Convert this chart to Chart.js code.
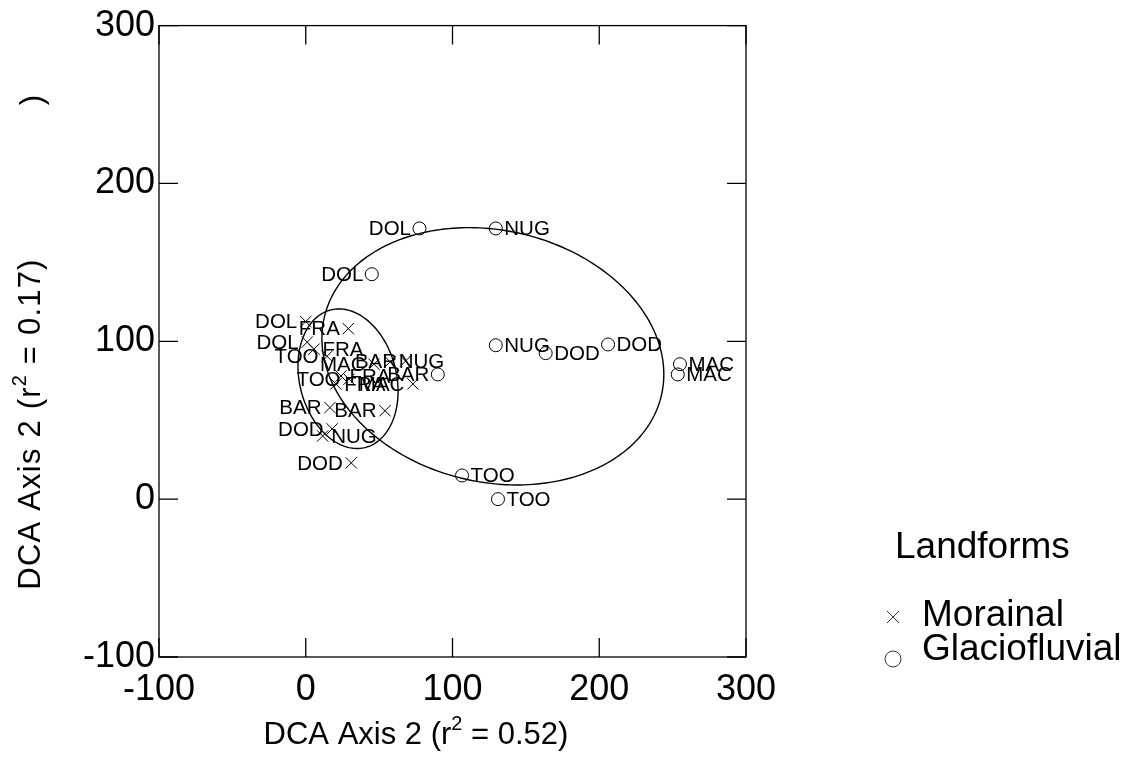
<!DOCTYPE html>
<html><head><meta charset="utf-8">
<script src="https://cdn.jsdelivr.net/npm/chart.js@4/dist/chart.umd.min.js"></script>
<style>html,body{margin:0;padding:0;background:#fff;}canvas{display:block;}</style>
</head><body>
<canvas id="c" width="1138" height="757"></canvas>
<script>
const FONT = '"Liberation Sans", Arial, Helvetica, sans-serif';

// axis ticks
const xTicks = [-100, 0, 100, 200, 300];
const yTicks = [-100, 0, 100, 200, 300];

// Morainal sites (crosses)
const morainalLabels = ['DOL','FRA','DOL','FRA','TOO','MAC','BAR','NUG','TOO','FRA','FRA','MAC','BAR','BAR','DOD','NUG','DOD'];
const morainalX      = [0,    29,   1,    5.6,  14.5, 46.5, 68,   57.5, 29.5, 24,   20.5, 73,   16.5, 54,   18,   11.5, 31];
const morainalY      = [112.5,108,  99.5, 95,   90.5, 85.5, 87.5, 87,   76,   78,   73,   73,   58,   56,   44.5, 40,   23];
const morainalSide   = ['L',  'L',  'L',  'R',  'L',  'L',  'L',  'R',  'L',  'R',  'R',  'L',  'L',  'L',  'L',  'R',  'L'];

// Glaciofluvial sites (circles)
const glacioLabels = ['DOL','NUG','DOL','NUG','DOD','DOD','MAC','MAC','TOO','TOO','BAR'];
const glacioX      = [77.5, 129.5,45,   129.5,163.5,206,  255,  253.5,106.5,131,  90];
const glacioY      = [171.5,171.5,142.5,97.5, 92.5, 98,   85.5, 79,   15,   0,    79];
const glacioSide   = ['L',  'R',  'L',  'R',  'R',  'R',  'R',  'R',  'R',  'R',  'L'];

// Ellipses (data units): centre, spread in x / y, correlation
const ellipseCX = [127.5, 28.8];
const ellipseCY = [90.5, 76.3];
const ellipseSX = [116.5, 34.1];
const ellipseSY = [81.5, 44.2];
const ellipseR  = [-0.14, -0.18];

const xTitleParts = ['DCA Axis 2 (r', '2', ' = 0.52)'];
const yTitleParts = ['DCA Axis 2 (r', '2', ' = 0.17)'];
const legendTitle = 'Landforms';
const seriesNames = ['Morainal', 'Glaciofluvial'];

const toPts = (xs, ys) => xs.map((x, i) => ({x: x, y: ys[i]}));

function drawSupTitle(ctx, parts, cx, cy, spacing) {
  ctx.letterSpacing = spacing + 'px';
  const big = '31px ' + FONT, small = '20px ' + FONT;
  ctx.font = big; const w0 = ctx.measureText(parts[0]).width;
  ctx.font = small; const w1 = ctx.measureText(parts[1]).width;
  ctx.font = big; const w2 = ctx.measureText(parts[2]).width;
  const W = w0 + w1 + w2;
  let x = cx - W / 2;
  ctx.textAlign = 'left';
  ctx.textBaseline = 'middle';
  ctx.font = big; ctx.fillText(parts[0], x, cy); x += w0;
  ctx.font = small; ctx.fillText(parts[1], x, cy - 11); x += w1;
  ctx.font = big; ctx.fillText(parts[2], x, cy);
  ctx.letterSpacing = '0px';
}

const decor = {
  id: 'decor',
  afterDatasetsDraw(chart) {
    const ctx = chart.ctx, a = chart.chartArea;
    const xs = chart.scales.x, ys = chart.scales.y;
    ctx.save();
    ctx.strokeStyle = '#000';
    ctx.fillStyle = '#000';
    // frame
    ctx.lineWidth = 1.3;
    ctx.strokeRect(a.left, a.top, a.right - a.left, a.bottom - a.top);
    // inward ticks on all four sides
    const tl = 19;
    ctx.beginPath();
    xTicks.forEach(v => {
      const p = xs.getPixelForValue(v);
      ctx.moveTo(p, a.bottom); ctx.lineTo(p, a.bottom - tl);
      ctx.moveTo(p, a.top); ctx.lineTo(p, a.top + tl);
    });
    yTicks.forEach(v => {
      const p = ys.getPixelForValue(v);
      ctx.moveTo(a.left, p); ctx.lineTo(a.left + tl, p);
      ctx.moveTo(a.right, p); ctx.lineTo(a.right - tl, p);
    });
    ctx.stroke();
    // ellipses
    ctx.lineWidth = 1.4;
    for (let k = 0; k < ellipseCX.length; k++) {
      ctx.beginPath();
      const n = 240, r = ellipseR[k], q = Math.sqrt(1 - r * r);
      for (let i = 0; i <= n; i++) {
        const t = 2 * Math.PI * i / n;
        const dx = ellipseCX[k] + ellipseSX[k] * Math.cos(t);
        const dy = ellipseCY[k] + ellipseSY[k] * (r * Math.cos(t) + q * Math.sin(t));
        const px = xs.getPixelForValue(dx), py = ys.getPixelForValue(dy);
        if (i === 0) ctx.moveTo(px, py); else ctx.lineTo(px, py);
      }
      ctx.closePath();
      ctx.stroke();
    }
    // point labels
    ctx.font = '20.5px ' + FONT;
    ctx.textBaseline = 'middle';
    const drawLabels = (labels, X, Y, side, off) => {
      labels.forEach((lab, i) => {
        const px = xs.getPixelForValue(X[i]), py = ys.getPixelForValue(Y[i]);
        if (side[i] === 'L') { ctx.textAlign = 'right'; ctx.fillText(lab, px - off, py + 1); }
        else { ctx.textAlign = 'left'; ctx.fillText(lab, px + off, py + 1); }
      });
    };
    drawLabels(morainalLabels, morainalX, morainalY, morainalSide, 8.5);
    drawLabels(glacioLabels, glacioX, glacioY, glacioSide, 8.5);
    // axis titles
    drawSupTitle(ctx, xTitleParts, 416, 735, 0);
    ctx.save();
    ctx.translate(31, 424);
    ctx.rotate(-Math.PI / 2);
    drawSupTitle(ctx, yTitleParts, 0, 0, 1.2);
    ctx.restore();
    ctx.save();
    ctx.font = '31px ' + FONT;
    ctx.textAlign = 'center';
    ctx.textBaseline = 'middle';
    ctx.translate(33, 100);
    ctx.rotate(-Math.PI / 2);
    ctx.fillText(')', 0, 0);
    ctx.restore();
    // legend
    ctx.font = '37px ' + FONT;
    ctx.textAlign = 'left';
    ctx.textBaseline = 'middle';
    ctx.fillText(legendTitle, 895, 548);
    ctx.fillText(seriesNames[0], 922, 616);
    ctx.fillText(seriesNames[1], 922, 650);
    ctx.lineWidth = 1;
    ctx.strokeStyle = '#333';
    ctx.beginPath();
    ctx.moveTo(887, 611); ctx.lineTo(899, 623);
    ctx.moveTo(899, 611); ctx.lineTo(887, 623);
    ctx.stroke();
    ctx.beginPath();
    ctx.arc(893, 659, 8, 0, 2 * Math.PI);
    ctx.stroke();
    ctx.restore();
  }
};

new Chart(document.getElementById('c'), {
  type: 'scatter',
  data: {
    datasets: [
      { label: seriesNames[0], data: toPts(morainalX, morainalY), pointStyle: 'crossRot',
        pointRadius: 8, pointBorderColor: '#000', pointBorderWidth: 1, backgroundColor: 'rgba(0,0,0,0)' },
      { label: seriesNames[1], data: toPts(glacioX, glacioY), pointStyle: 'circle',
        pointRadius: 6.5, pointBorderColor: '#000', pointBorderWidth: 1, pointBackgroundColor: 'rgba(0,0,0,0)' }
    ]
  },
  options: {
    responsive: false,
    animation: false,
    devicePixelRatio: 1,
    layout: { padding: { top: 23, right: 392, left: 0, bottom: 0 } },
    plugins: { legend: { display: false }, tooltip: { enabled: false } },
    scales: {
      x: {
        type: 'linear', min: -100, max: 300,
        afterBuildTicks: s => { s.ticks = xTicks.map(v => ({ value: v })); },
        ticks: { font: { size: 36, family: FONT }, color: '#000', padding: 11, autoSkip: false, maxRotation: 0 },
        grid: { display: false, drawTicks: false },
        border: { display: false },
        afterFit: s => { s.height = 100; }
      },
      y: {
        type: 'linear', min: -100, max: 300,
        afterBuildTicks: s => { s.ticks = yTicks.map(v => ({ value: v })); },
        ticks: { font: { size: 36, family: FONT }, color: '#000', padding: 4, autoSkip: false },
        grid: { display: false, drawTicks: false },
        border: { display: false },
        afterFit: s => { s.width = 159; }
      }
    }
  },
  plugins: [decor]
});
</script>
</body></html>
